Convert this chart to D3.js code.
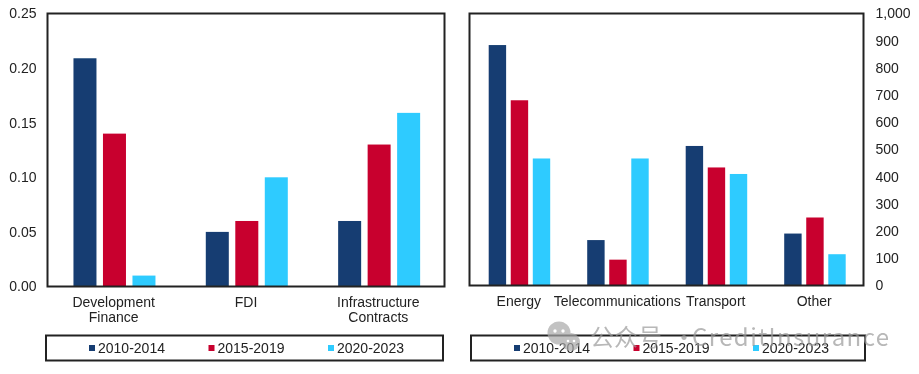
<!DOCTYPE html>
<html>
<head>
<meta charset="utf-8">
<script src="https://cdn.jsdelivr.net/npm/d3@7"></script>
<style>
  html, body { margin: 0; padding: 0; background: #fff; }
  svg { display: block; }
  text { font-family: "Liberation Sans", Arial, sans-serif; font-size: 14px; fill: #222; }
  .axis .domain { display: none; }
  .axis line { display: none; }
  .frame { fill: none; stroke: #222; stroke-width: 2; }
  .watermark { font-family: "Noto Sans CJK SC", "Noto Sans", sans-serif; fill: #9a9a9a; }
</style>
</head>
<body>
<div id="d3-container"></div>
<script>
// ----------------------- data ------------------------
const periods = ["2010-2014", "2015-2019", "2020-2023"];
const periodColors = ["#163e72", "#c8002f", "#2ecbff"];

const leftCategories = [["Development", "Finance"], ["FDI"], ["Infrastructure", "Contracts"]];
const left2010 = [0.209, 0.05, 0.06];
const left2015 = [0.14, 0.06, 0.13];
const left2020 = [0.01, 0.10, 0.159];
const leftTicks = [0, 0.05, 0.10, 0.15, 0.20, 0.25];

const rightCategories = [["Energy"], ["Telecommunications"], ["Transport"], ["Other"]];
const right2010 = [884, 167, 513, 191];
const right2015 = [681, 95, 434, 250];
const right2020 = [467, 467, 410, 115];
const rightTicks = [0, 100, 200, 300, 400, 500, 600, 700, 800, 900, 1000];

// ----------------------- constants ------------------------
const width = 919,
  height = 374;

const svg = d3.select("#d3-container")
  .append("svg")
  .attr("width", width)
  .attr("height", height);

// the reference is a slightly soft screenshot
svg.append("defs").append("filter")
  .attr("id", "soft")
  .append("feGaussianBlur")
  .attr("stdDeviation", 0.35);

const page = svg.append("g").attr("filter", "url(#soft)");

function drawPanel(p) {
  const g = page.append("g");

  const yScale = d3.scaleLinear()
    .domain(p.yDomain)
    .range([p.bottom, p.top]);

  const xScale = d3.scaleBand()
    .domain(d3.range(p.categories.length))
    .range([p.left, p.right]);

  const innerScale = d3.scaleBand()
    .domain(d3.range(periods.length))
    .range([0, p.groupWidth])
    .paddingInner(p.barGap);

  // ----------------------- bars ------------------------
  p.series.forEach((values, s) => {
    g.append("g")
      .selectAll("rect")
      .data(values)
      .join("rect")
      .attr("x", (d, i) => xScale(i) + (xScale.bandwidth() - p.groupWidth) / 2 + p.barShift + innerScale(s))
      .attr("y", d => yScale(d))
      .attr("width", innerScale.bandwidth())
      .attr("height", d => yScale(0) - yScale(d))
      .attr("fill", periodColors[s]);
  });

  // ----------------------- frame ------------------------
  g.append("rect")
    .attr("class", "frame")
    .attr("x", p.left)
    .attr("y", p.top)
    .attr("width", p.right - p.left)
    .attr("height", p.bottom - p.top);

  // ----------------------- axis ------------------------
  const yAxis = (p.side === "left" ? d3.axisLeft(yScale) : d3.axisRight(yScale))
    .tickValues(p.ticks)
    .tickFormat(p.format)
    .tickSize(0)
    .tickPadding(p.tickPadding);

  g.append("g")
    .attr("class", "axis")
    .attr("transform", `translate(${p.side === "left" ? p.left : p.right}, 0)`)
    .call(yAxis)
    .attr("font-family", null)
    .attr("font-size", null);

  // category labels, one text per line
  const labels = g.append("g")
    .selectAll("text")
    .data(p.categories)
    .join("text")
    .attr("text-anchor", "middle")
    .attr("y", p.bottom + 20);

  labels.selectAll("tspan")
    .data((d, i) => d.map(line => ({ line, i })))
    .join("tspan")
    .attr("x", d => xScale(d.i) + xScale.bandwidth() / 2)
    .attr("dy", (d, j) => j === 0 ? 0 : 15.5)
    .text(d => d.line);

  // ----------------------- legend ------------------------
  g.append("rect")
    .attr("class", "frame")
    .attr("x", p.legendLeft)
    .attr("y", 335.5)
    .attr("width", p.right - p.left)
    .attr("height", 25);

  const legendX = d3.scaleLinear()
    .domain([0, 1])
    .range([p.legendLeft + 43, p.legendLeft + 162.5]);

  const items = g.append("g")
    .selectAll("g")
    .data(periods)
    .join("g")
    .attr("transform", (d, i) => `translate(${legendX(i)}, 348)`);

  items.append("rect")
    .attr("y", -3)
    .attr("width", 6)
    .attr("height", 6)
    .attr("fill", (d, i) => periodColors[i]);

  items.append("text")
    .attr("x", 9)
    .attr("y", 5)
    .text(d => d);
}

drawPanel({
  categories: leftCategories,
  series: [left2010, left2015, left2020],
  yDomain: [0, 0.25],
  ticks: leftTicks,
  format: d3.format(".2f"),
  side: "left",
  tickPadding: 11,
  left: 47.5,
  right: 444.5,
  top: 13.5,
  bottom: 286.5,
  groupWidth: 82,
  barGap: 0.22,
  barShift: 0.8,
  legendLeft: 46
});

drawPanel({
  categories: rightCategories,
  series: [right2010, right2015, right2020],
  yDomain: [0, 1000],
  ticks: rightTicks,
  format: d3.format(","),
  side: "right",
  tickPadding: 12,
  left: 469.5,
  right: 863.5,
  top: 13.5,
  bottom: 285.5,
  groupWidth: 61.5,
  barGap: 0.21,
  barShift: 0.7,
  legendLeft: 471
});

// ----------------------- watermark ------------------------
const mark = svg.append("g").attr("opacity", 0.7);

mark.append("circle").attr("cx", 559).attr("cy", 333).attr("r", 11.5).attr("fill", "#a8a8a8");
mark.append("circle").attr("cx", 571).attr("cy", 342).attr("r", 9).attr("fill", "#a8a8a8");
mark.append("circle").attr("cx", 555).attr("cy", 331).attr("r", 1.7).attr("fill", "#fff");
mark.append("circle").attr("cx", 563).attr("cy", 331).attr("r", 1.7).attr("fill", "#fff");
mark.append("circle").attr("cx", 568).attr("cy", 341).attr("r", 1.3).attr("fill", "#fff");
mark.append("circle").attr("cx", 574).attr("cy", 341).attr("r", 1.3).attr("fill", "#fff");

mark.append("text")
  .attr("class", "watermark")
  .attr("x", 590)
  .attr("y", 346)
  .style("font-size", "24px")
  .text("公众号");

mark.append("text")
  .attr("class", "watermark")
  .attr("x", 672)
  .attr("y", 346)
  .style("font-size", "24px")
  .text("·");

mark.append("text")
  .attr("class", "watermark")
  .attr("x", 692)
  .attr("y", 346)
  .attr("textLength", 197)
  .style("font-size", "24px")
  .text("CreditInsurance");
</script>
</body>
</html>
